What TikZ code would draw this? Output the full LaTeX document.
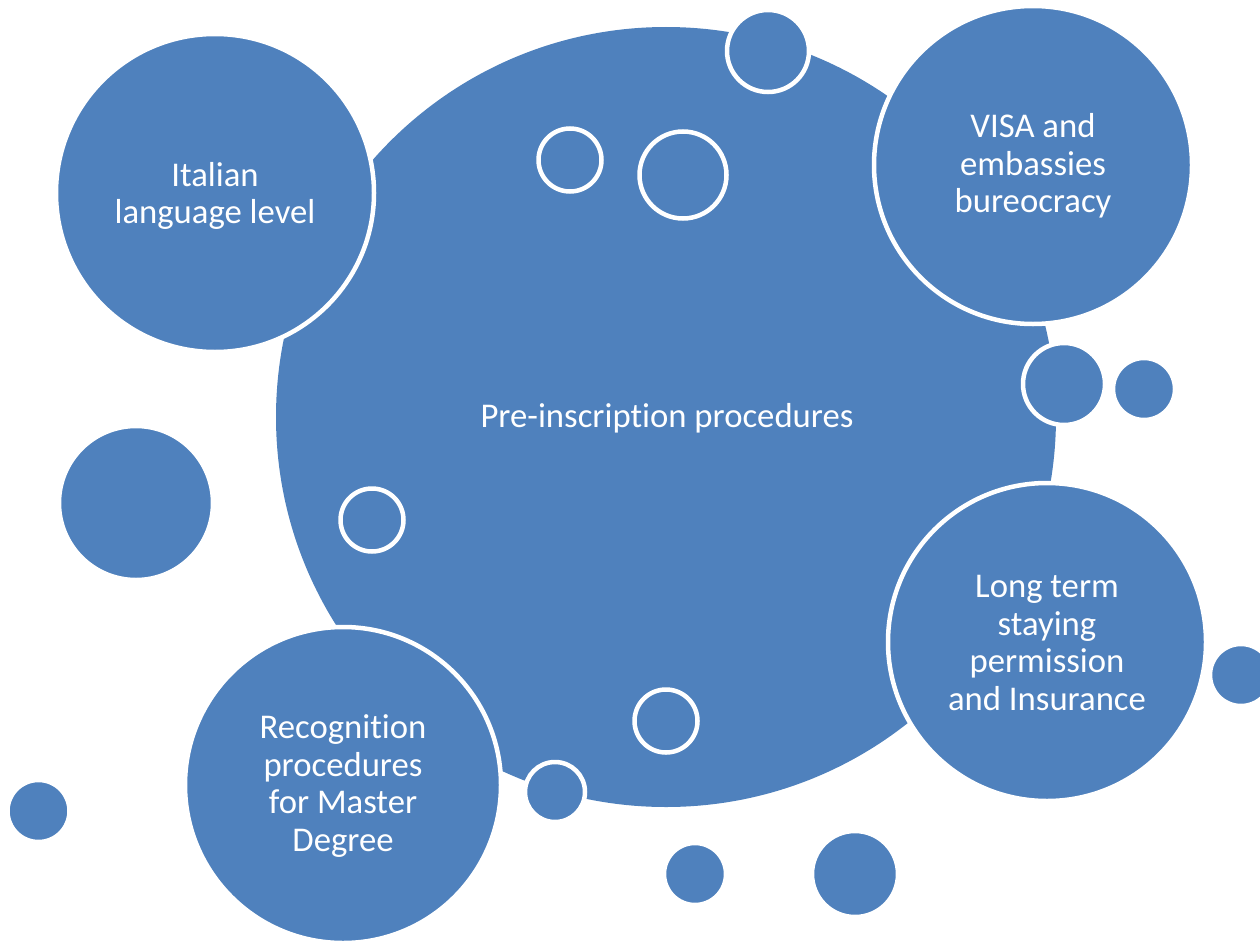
\documentclass[tikz,border=0pt]{standalone}
\usepackage{fontspec}
\setmainfont[Ligatures=NoCommon]{Carlito}
\definecolor{obl}{HTML}{4F81BD}
\begin{document}
\begin{tikzpicture}[x=1pt,y=-1pt,
  bub/.style={circle,fill=obl,draw=white,line width=4.5pt,inner sep=0pt,minimum size=#1},
  lbl/.style={text=white,align=center,font=\fontsize{34.7}{37.5}\selectfont}]
\useasboundingbox (0,0) rectangle (1260,942);
% central circle
\node[bub=780pt,draw=none] (main) at (666,417) {};
% rings inside
\node[bub=63pt] (r1) at (570,160) {};
\node[bub=87pt] (r2) at (683,175) {};
\node[bub=63pt] (r3) at (372,520) {};
\node[bub=63pt] (r4) at (666,721) {};
% satellites
\node[bub=318pt] (ita) at (215,193) {};
\node[bub=318pt] (visa) at (1033,165) {};
\node[bub=318pt] (long) at (1047,642) {};
\node[bub=316pt] (rec) at (343,785) {};
% small circles
\node[bub=82pt] (s1) at (768,51) {};
\node[bub=82pt] (s2) at (1064,384) {};
\node[bub=62pt] (s3) at (1144,389) {};
\node[bub=154pt] (s4) at (136,503) {};
\node[bub=60pt] (s5) at (555,792) {};
\node[bub=62pt] (s6) at (38.5,811) {};
\node[bub=62pt] (s7) at (695,874) {};
\node[bub=86pt] (s8) at (855,874) {};
\node[bub=62pt] (s9) at (1241,675) {};
% labels
\node[lbl] (tmain) at (667,418) {Pre-inscription procedures};
\node[lbl] (tita) at (215,196) {Italian\\language level};
\node[lbl] (tvisa) at (1033,166) {VISA and\\embassies\\bureocracy};
\node[lbl] (tlong) at (1047,643) {Long term\\staying\\permission\\and Insurance};
\node[lbl] (trec) at (343,786) {Recognition\\procedures\\for Master\\Degree};
\end{tikzpicture}
\end{document}
